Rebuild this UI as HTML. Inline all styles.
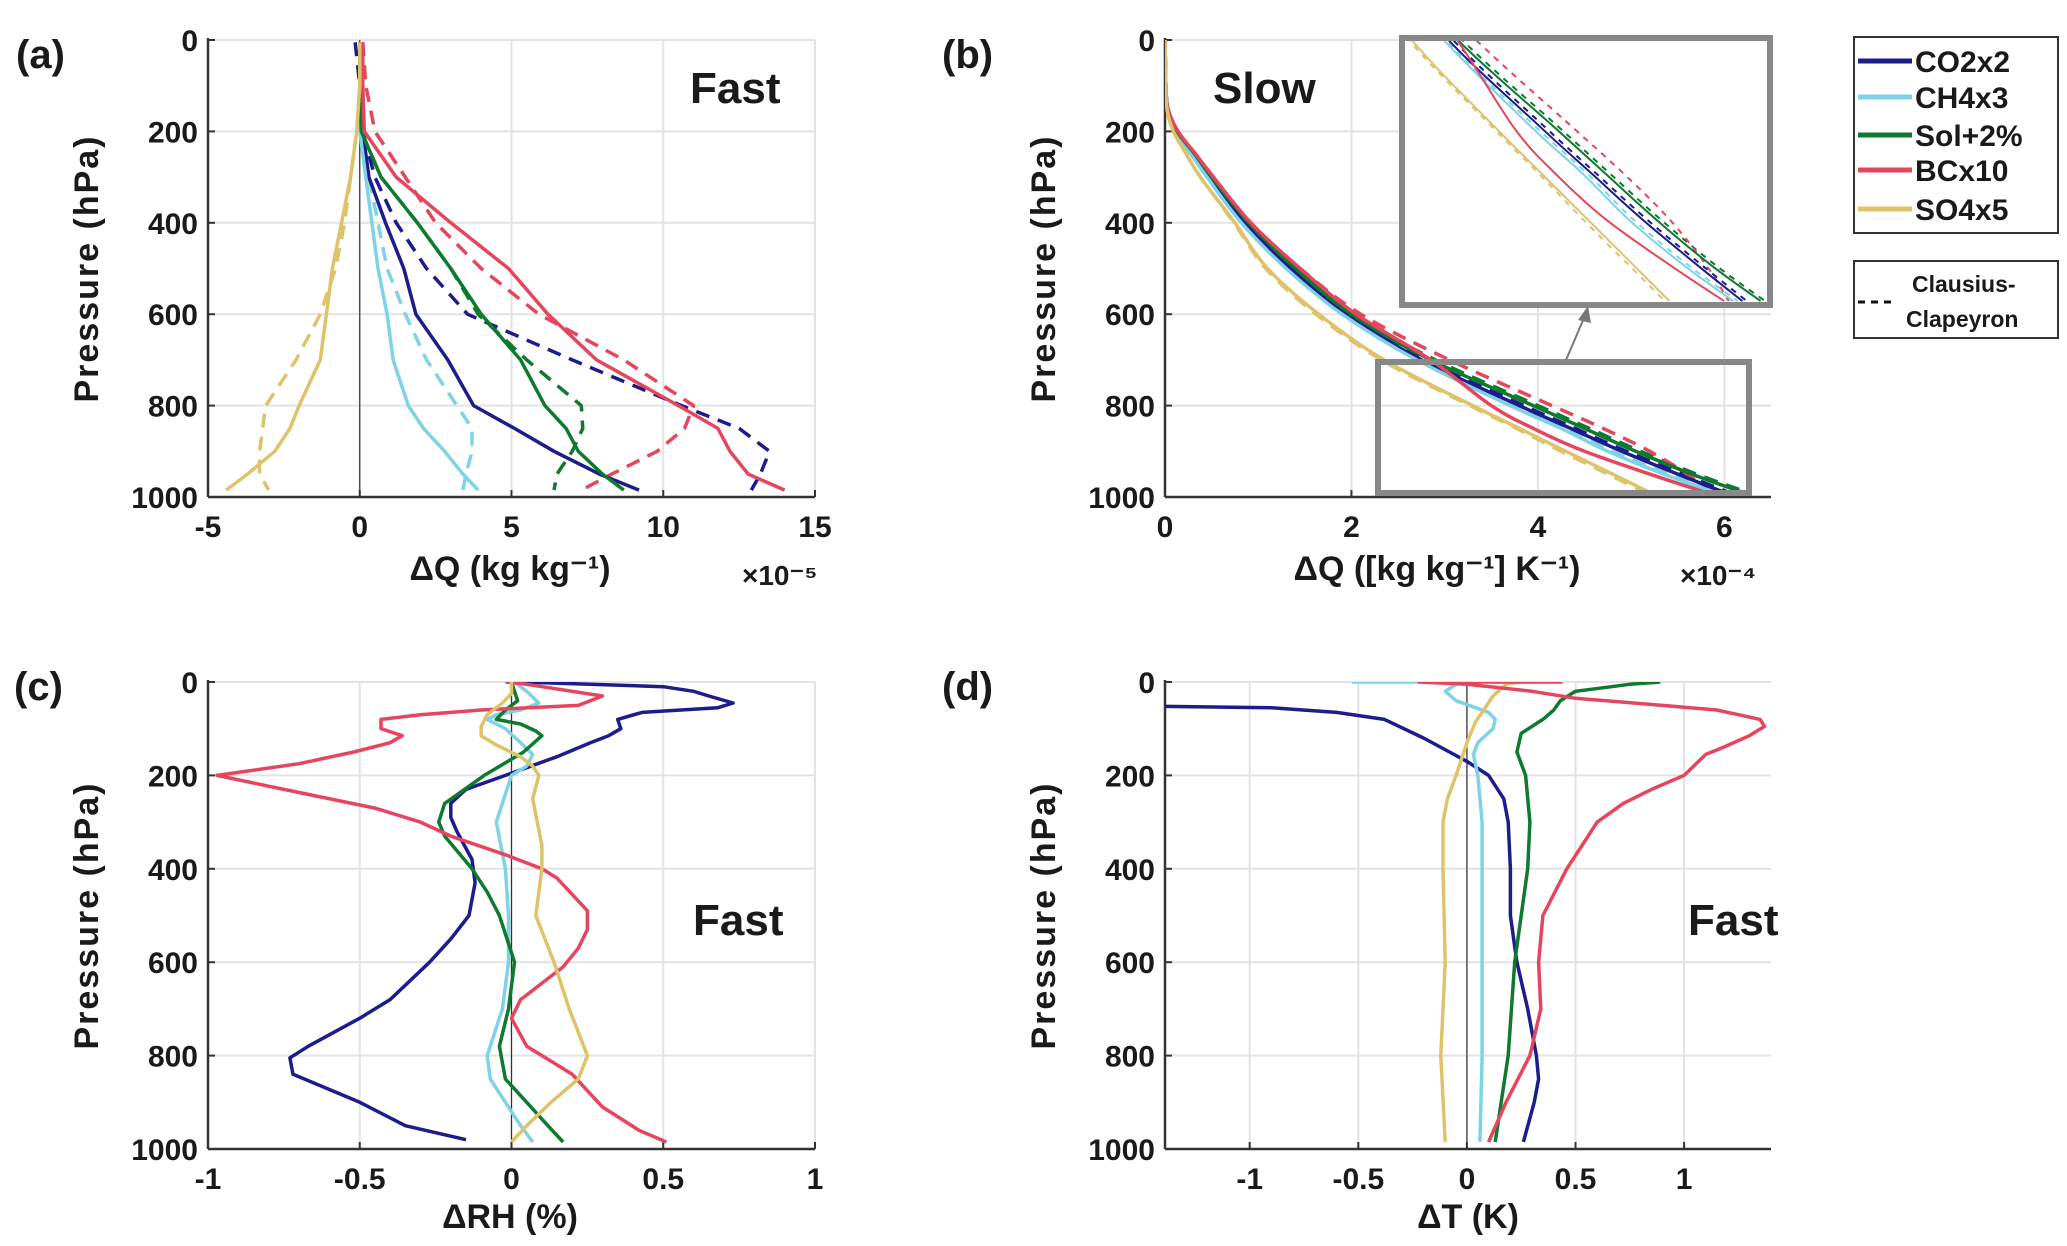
<!DOCTYPE html>
<html><head><meta charset="utf-8"><style>
body{margin:0;background:#fff}
svg{display:block;font-family:"Liberation Sans",sans-serif;font-weight:bold}
</style></head><body>
<svg id="fig" width="2067" height="1246" viewBox="0 0 2067 1246" xmlns="http://www.w3.org/2000/svg">
<defs>
<clipPath id="clipA"><rect x="208" y="40" width="607" height="457"/></clipPath>
<clipPath id="clipB"><rect x="1165" y="40" width="606" height="457"/></clipPath>
<clipPath id="clipC"><rect x="208" y="682" width="607" height="467"/></clipPath>
<clipPath id="clipD"><rect x="1165" y="682" width="606" height="467"/></clipPath>
<clipPath id="clipI"><rect x="1405" y="41" width="362" height="261"/></clipPath>
</defs>
<g id="root"></g>
</svg>
<script>
// ---------- data ----------
const seriesNames = ["CO2x2","CH4x3","Sol+2%","BCx10","SO4x5"];
const seriesColors = ["#1c1c8c","#7fd3e6","#0d7a2f","#e6455d","#dfc36b"];
const yTicks = [0,200,400,600,800,1000];
// Panel a (x1e-5)
const aTicks = [-5,0,5,10,15];
const aP = [5,100,200,300,400,500,600,700,800,850,900,950,985];
const aCO2 = [0,0,0.1,0.3,0.85,1.45,1.85,2.9,3.75,5.1,6.4,7.9,9.2];
const aCO2cc = [-0.15,0,0.1,0.5,1.2,2.2,3.55,7.0,10.6,12.5,13.5,13.2,12.9];
const aCH4 = [0,0,0,0.2,0.4,0.6,0.9,1.1,1.6,2.1,2.8,3.4,3.9];
const aCH4cc = [0,0,0,0.3,0.6,0.9,1.5,2.2,3.2,3.7,3.7,3.5,3.4];
const aSol = [0,0,0.05,0.7,1.9,3.0,4.0,5.3,6.1,6.8,7.2,8.0,8.7];
const aSolcc = [0,0,0.05,0.7,1.9,3.0,3.9,5.5,7.3,7.35,7.0,6.5,6.4];
const aBC = [0.1,0.1,0.15,1.2,3.0,4.9,6.2,7.8,10.5,11.8,12.2,12.8,14.0];
const aBCcc = [0.1,0.2,0.5,1.5,2.5,4.0,5.9,8.7,11.0,10.7,9.8,8.3,7.3];
const aSO4 = [0,0,-0.1,-0.3,-0.6,-0.9,-1.1,-1.3,-2.0,-2.3,-2.8,-3.7,-4.4];
const aSO4cc = [0,0,-0.1,-0.3,-0.5,-0.8,-1.3,-2.1,-3.1,-3.2,-3.3,-3.3,-3.0];
// Panel b (x1e-4)
const bTicks = [0,2,4,6];
const bP = [0,100,150,200,250,300,400,500,600,700,800,850,900,950,990];
const bCO2 = [0,0.01,0.03,0.12,0.3,0.47,0.85,1.35,1.95,2.75,3.8,4.35,4.9,5.5,6.0];
const bCO2cc = [0,0.01,0.03,0.12,0.3,0.48,0.87,1.38,1.98,2.8,3.85,4.4,4.95,5.55,6.05];
const bCH4 = [0,0.01,0.03,0.11,0.28,0.45,0.82,1.3,1.9,2.7,3.7,4.25,4.75,5.35,5.9];
const bCH4cc = [0,0.01,0.03,0.11,0.28,0.45,0.83,1.32,1.92,2.72,3.75,4.3,4.8,5.4,5.95];
const bSol = [0,0.01,0.03,0.13,0.32,0.5,0.9,1.4,2.0,2.85,3.95,4.5,5.05,5.65,6.2];
const bSolcc = [0,0.01,0.03,0.13,0.32,0.5,0.9,1.42,2.02,2.9,4.0,4.55,5.1,5.7,6.25];
const bBC = [0,0.01,0.03,0.14,0.33,0.52,0.92,1.45,2.05,2.85,3.5,3.95,4.5,5.2,5.8];
const bBCcc = [0,0.01,0.03,0.14,0.33,0.52,0.92,1.45,2.1,3.05,4.15,4.7,5.2,5.6,5.85];
const bSO4 = [0,0.01,0.02,0.09,0.23,0.38,0.75,1.1,1.65,2.35,3.3,3.8,4.3,4.8,5.2];
const bSO4cc = [0,0.01,0.02,0.09,0.23,0.38,0.74,1.08,1.62,2.32,3.27,3.77,4.25,4.75,5.15];
// Panel c (RH %)
const cTicks = [-1,-0.5,0,0.5,1];
const cCO2P = [0,10,20,30,45,55,65,80,100,115,130,160,200,230,260,290,320,380,430,500,550,600,680,720,780,805,840,900,950,980];
const cCO2 = [0.03,0.5,0.6,0.65,0.73,0.68,0.43,0.35,0.36,0.32,0.26,0.15,-0.02,-0.15,-0.2,-0.2,-0.18,-0.13,-0.12,-0.14,-0.2,-0.27,-0.4,-0.5,-0.67,-0.73,-0.72,-0.5,-0.35,-0.15];
const cBCP = [0,5,30,50,60,70,80,100,115,130,150,175,200,230,270,300,330,370,400,420,490,530,570,610,680,720,780,840,910,960,985];
const cBC = [-0.02,0.05,0.3,0.22,-0.1,-0.3,-0.43,-0.43,-0.36,-0.4,-0.52,-0.7,-0.97,-0.75,-0.45,-0.3,-0.2,-0.02,0.1,0.15,0.25,0.25,0.22,0.17,0.03,0.0,0.05,0.2,0.3,0.42,0.51];
const cSolP = [0,20,40,60,80,90,105,115,150,200,260,300,330,400,450,500,560,600,700,780,850,900,950,985];
const cSol = [0,0.01,0.02,-0.02,-0.05,0.03,0.08,0.1,0.04,-0.09,-0.22,-0.24,-0.22,-0.13,-0.08,-0.04,-0.01,0.01,-0.01,-0.04,-0.02,0.05,0.12,0.17];
const cCH4P = [0,20,45,60,70,80,100,130,155,180,200,300,400,500,600,700,800,850,900,950,985];
const cCH4 = [0.01,0.05,0.09,0.03,-0.05,-0.08,-0.02,0.03,0.07,0.05,0,-0.05,-0.02,-0.01,-0.01,-0.03,-0.08,-0.07,-0.02,0.03,0.07];
const cSO4P = [0,25,45,70,95,115,135,160,180,200,250,350,400,500,600,700,800,850,900,950,985];
const cSO4 = [0,0,-0.03,-0.08,-0.1,-0.1,-0.05,0.03,0.07,0.09,0.07,0.1,0.1,0.08,0.14,0.19,0.25,0.22,0.13,0.05,0];
// Panel d (T K)
const dTicks = [-1,-0.5,0,0.5,1];
const dCO2P = [52,55,65,80,120,150,170,200,250,300,400,500,600,700,800,850,900,985];
const dCO2 = [-1.4,-0.9,-0.6,-0.38,-0.2,-0.08,0,0.1,0.17,0.19,0.2,0.2,0.23,0.28,0.32,0.33,0.31,0.26];
const dBCP = [0,0,5,20,35,50,60,70,80,95,115,140,155,200,230,260,300,350,400,500,600,700,800,900,985];
const dBC = [0.44,-0.22,0,0.3,0.5,0.9,1.15,1.25,1.35,1.37,1.3,1.18,1.1,1.0,0.85,0.72,0.6,0.53,0.46,0.35,0.33,0.34,0.29,0.18,0.1];
const dCH4P = [0,0,5,20,40,65,80,100,130,155,200,300,400,600,800,985];
const dCH4 = [-0.53,-0.1,-0.05,-0.1,-0.05,0.1,0.13,0.12,0.05,0.03,0.05,0.07,0.07,0.07,0.07,0.06];
const dSO4P = [0,0,5,30,65,85,130,200,250,300,400,600,800,985];
const dSO4 = [0.1,0.25,0.18,0.12,0.07,0.04,0,-0.05,-0.09,-0.11,-0.11,-0.1,-0.12,-0.1];
const dSolP = [0,5,20,40,60,80,110,150,200,300,400,600,800,985];
const dSol = [0.89,0.75,0.5,0.43,0.4,0.35,0.25,0.23,0.27,0.29,0.28,0.22,0.19,0.13];

// ---------- helpers ----------
const NS="http://www.w3.org/2000/svg";
const root=document.getElementById('root');
function mk(tag,attrs,parent){const e=document.createElementNS(NS,tag);for(const k in attrs)e.setAttribute(k,attrs[k]);(parent||root).appendChild(e);return e;}
function txt(x,y,s,size,anchor,parent){const t=mk('text',{x:x,y:y,'font-size':size,'text-anchor':anchor||'middle',fill:'#1a1a1a'},parent);t.textContent=s;return t;}

function makeAxes(ax){
  ax.sx=v=>ax.x0+(v-ax.xmin)/(ax.xmax-ax.xmin)*(ax.x1-ax.x0);
  ax.sy=p=>ax.y0+p/1000*(ax.y1-ax.y0);
  const g=mk('g',{});
  
  
  ax.xticks.forEach(v=>{mk('line',{x1:ax.sx(v),x2:ax.sx(v),y1:ax.y0,y2:ax.y1,stroke:'#e3e3e3','stroke-width':2},g);});
  yTicks.forEach(p=>{mk('line',{x1:ax.x0,x2:ax.x1,y1:ax.sy(p),y2:ax.sy(p),stroke:'#e3e3e3','stroke-width':2},g);});
  if(ax.zero){mk('line',{x1:ax.sx(0),x2:ax.sx(0),y1:ax.y0,y2:ax.y1,stroke:'#333','stroke-width':1.2},g);}
  mk('line',{x1:ax.x0,x2:ax.x0,y1:ax.y0-2,y2:ax.y1,stroke:'#333','stroke-width':2.5},g);
  mk('line',{x1:ax.x0,x2:ax.x1,y1:ax.y1,y2:ax.y1,stroke:'#333','stroke-width':2.5},g);
  ax.xticks.forEach(v=>{
    mk('line',{x1:ax.sx(v),x2:ax.sx(v),y1:ax.y1,y2:ax.y1-7,stroke:'#333','stroke-width':2},g);
    const t=txt(ax.sx(v),ax.y1+40,String(v),30,'middle',g);
    
    
  });
  yTicks.forEach(p=>{
    mk('line',{x1:ax.x0,x2:ax.x0+7,y1:ax.sy(p),y2:ax.sy(p),stroke:'#333','stroke-width':2},g);
    const t=txt(ax.x0-10,ax.sy(p)+11,String(p),30,'end',g);
    
    
  });
  const yl=txt(0,0,'Pressure (hPa)',34,'middle',g);
  yl.setAttribute('transform','translate('+(ax.x0-110)+','+((ax.y0+ax.y1)/2)+') rotate(-90)');
  yl.setAttribute('letter-spacing','2');
  
  
  return g;
}
function line(ax,P,V,color,dash,width,name,clip,map,smooth){
  const sx=map?map.sx:ax.sx, sy=map?map.sy:ax.sy;
  const pts=P.map((p,i)=>[sx(V[i]),sy(p)]);
  let d;
  if(smooth){
    d='M'+pts[0][0].toFixed(1)+','+pts[0][1].toFixed(1);
    for(let i=0;i<pts.length-1;i++){
      const p0=pts[Math.max(i-1,0)],p1=pts[i],p2=pts[i+1],p3=pts[Math.min(i+2,pts.length-1)];
      const c1=[p1[0]+(p2[0]-p0[0])/6,p1[1]+(p2[1]-p0[1])/6];
      const c2=[p2[0]-(p3[0]-p1[0])/6,p2[1]-(p3[1]-p1[1])/6];
      d+=' C'+c1.map(v=>v.toFixed(1)).join(',')+' '+c2.map(v=>v.toFixed(1)).join(',')+' '+p2.map(v=>v.toFixed(1)).join(',');
    }
  } else {
    d=pts.map((q,i)=>(i?'L':'M')+q[0].toFixed(1)+','+q[1].toFixed(1)).join(' ');
  }
  const e=mk('path',{d:d,fill:'none',stroke:color,'stroke-width':width||3.5,'stroke-linejoin':'round','clip-path':'url(#'+clip+')'});
  if(dash)e.setAttribute('stroke-dasharray',dash);
  
  
  return e;
}

// ---------- panel a ----------
const A={name:'panel-a',x0:208,x1:815,y0:40,y1:497,xmin:-5,xmax:15,xticks:aTicks,zero:true};
makeAxes(A);
const aSol_=[aCO2,aCH4,aSol,aBC,aSO4], aCC=[aCO2cc,aCH4cc,aSolcc,aBCcc,aSO4cc];
aCC.forEach((v,i)=>line(A,aP,v,seriesColors[i],'14,9',3.5,'a-cc-'+seriesNames[i].toLowerCase(),'clipA'));
aSol_.forEach((v,i)=>line(A,aP,v,seriesColors[i],null,3.5,'a-line-'+seriesNames[i].toLowerCase(),'clipA'));
// ---------- panel b ----------
const B={name:'panel-b',x0:1165,x1:1771,y0:40,y1:497,xmin:0,xmax:6.5,xticks:bTicks,zero:false};
makeAxes(B);
const bS=[bCO2,bCH4,bSol,bBC,bSO4], bC=[bCO2cc,bCH4cc,bSolcc,bBCcc,bSO4cc];
bC.forEach((v,i)=>line(B,bP,v,seriesColors[i],'14,9',3.5,'b-cc-'+seriesNames[i].toLowerCase(),'clipB',null,true));
bS.forEach((v,i)=>line(B,bP,v,seriesColors[i],null,3.5,'b-line-'+seriesNames[i].toLowerCase(),'clipB',null,true));
// inset
const inset={xmin:2.3,xmax:6.27,pmin:704,pmax:991,X0:1405,X1:1767,Y0:41,Y1:302};
const imap={sx:v=>inset.X0+(v-inset.xmin)/(inset.xmax-inset.xmin)*(inset.X1-inset.X0),
            sy:p=>inset.Y0+(p-inset.pmin)/(inset.pmax-inset.pmin)*(inset.Y1-inset.Y0)};
mk('rect',{x:1402,y:38,width:368,height:267,fill:'#fff',stroke:'none'});
bC.forEach((v,i)=>line(B,bP,v,seriesColors[i],'6,6',2,'inset-cc-'+seriesNames[i].toLowerCase(),'clipI',imap,true));
bS.forEach((v,i)=>line(B,bP,v,seriesColors[i],null,2,'inset-line-'+seriesNames[i].toLowerCase(),'clipI',imap,true));
let r=mk('rect',{x:1402,y:38,width:368,height:267,fill:'none',stroke:'#888','stroke-width':6});

r=mk('rect',{x:1378,y:362,width:371,height:131,fill:'none',stroke:'#888','stroke-width':6});

mk('line',{x1:1566,y1:360,x2:1584,y2:318,stroke:'#777','stroke-width':2});
r=mk('polygon',{points:'1588,306 1578,320 1591,323',fill:'#777'});

// ---------- panel c ----------
const C={name:'panel-c',x0:208,x1:815,y0:682,y1:1149,xmin:-1,xmax:1,xticks:cTicks,zero:true};
makeAxes(C);
line(C,cCO2P,cCO2,seriesColors[0],null,3.5,'c-line-co2x2','clipC');
line(C,cCH4P,cCH4,seriesColors[1],null,3.5,'c-line-ch4x3','clipC');
line(C,cSolP,cSol,seriesColors[2],null,3.5,'c-line-sol','clipC');
line(C,cBCP,cBC,seriesColors[3],null,3.5,'c-line-bcx10','clipC');
line(C,cSO4P,cSO4,seriesColors[4],null,3.5,'c-line-so4x5','clipC');
// ---------- panel d ----------
const D={name:'panel-d',x0:1165,x1:1771,y0:682,y1:1149,xmin:-1.39,xmax:1.4,xticks:dTicks,zero:true};
makeAxes(D);
line(D,dCO2P,dCO2,seriesColors[0],null,3.5,'d-line-co2x2','clipD');
line(D,dCH4P,dCH4,seriesColors[1],null,3.5,'d-line-ch4x3','clipD');
line(D,dSolP,dSol,seriesColors[2],null,3.5,'d-line-sol','clipD');
line(D,dSO4P,dSO4,seriesColors[4],null,3.5,'d-line-so4x5','clipD');
line(D,dBCP,dBC,seriesColors[3],null,3.5,'d-line-bcx10','clipD');

// ---------- text labels ----------
function label(x,y,s,size,name,anchor){const t=txt(x,y,s,size,anchor||'start');return t;}
label(16,68,'(a)',40,'panel-label-a');
label(942,68,'(b)',40,'panel-label-b');
label(14,700,'(c)',40,'panel-label-c');
label(942,700,'(d)',40,'panel-label-d');
label(690,103,'Fast',44,'label-fast-a');
label(1213,103,'Slow',44,'label-slow-b');
label(693,935,'Fast',44,'label-fast-c');
label(1688,935,'Fast',44,'label-fast-d');
label(510,580,'\u0394Q (kg kg\u207B\u00B9)',34,'x-axis-title-a','middle');
label(742,585,'\u00D710\u207B\u2075',28,'x-exponent-a');
label(1437,580,'\u0394Q ([kg kg\u207B\u00B9] K\u207B\u00B9)',34,'x-axis-title-b','middle');
label(1680,585,'\u00D710\u207B\u2074',28,'x-exponent-b');
label(510,1228,'\u0394RH (%)',34,'x-axis-title-c','middle');
label(1468,1228,'\u0394T (K)',34,'x-axis-title-d','middle');

// ---------- legend ----------
const lg=mk('g',{});


mk('rect',{x:1854,y:37,width:204,height:196,fill:'#fff',stroke:'#333','stroke-width':2},lg);
const legY=[61,97,135,170,209];
seriesNames.forEach((n,i)=>{
  const e=mk('g',{},lg);
  
  
  mk('line',{x1:1858,x2:1912,y1:legY[i],y2:legY[i],stroke:seriesColors[i],'stroke-width':5},e);
  txt(1915,legY[i]+11,n,30,'start',e);
});
const cc=mk('g',{});


mk('rect',{x:1854,y:261,width:204,height:77,fill:'#fff',stroke:'#333','stroke-width':2},cc);
mk('line',{x1:1858,x2:1896,y1:302,y2:302,stroke:'#111','stroke-width':3,'stroke-dasharray':'7,6'},cc);
txt(1912,292,'Clausius-',23,'start',cc);
txt(1906,327,'Clapeyron',23,'start',cc);
</script>
</body></html>
